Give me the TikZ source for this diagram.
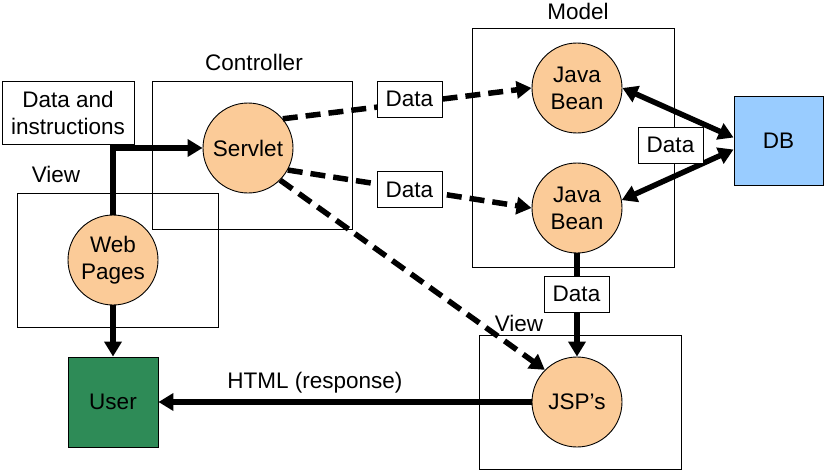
\documentclass[tikz,border=0pt]{standalone}
\usepackage{fontspec}
\setmainfont{Liberation Sans}
\usetikzlibrary{arrows.meta,calc}
\definecolor{peach}{RGB}{251,203,152}
\definecolor{usergreen}{RGB}{46,139,87}
\definecolor{dbblue}{RGB}{153,204,255}
\tikzset{
  frame/.style={draw=black, line width=0.9pt},
  proc/.style={circle, draw=black, line width=0.9pt, fill=peach, minimum size=90pt, inner sep=0pt, align=center},
  databox/.style={draw=black, line width=0.9pt, fill=white, minimum width=65pt, minimum height=36pt, inner sep=0pt},
  lbl/.style={inner sep=0pt},
  flow/.style={line width=5.5pt, -{Triangle[length=15pt,width=17pt]}},
  flowboth/.style={line width=5.5pt, {Triangle[length=15pt,width=17pt]}-{Triangle[length=15pt,width=17pt]}},
  dflow/.style={line width=5.5pt, dash pattern=on 15pt off 8pt, -{Triangle[length=15pt,width=17pt]}},
}
\begin{document}
\begin{tikzpicture}[x=1pt,y=-1pt, font=\fontsize{22.5}{27}\selectfont]
\useasboundingbox (0,0) rectangle (825,471);
% frames
\draw[frame] (17,193) rectangle (218,327);
\draw[frame] (152,81) rectangle (352,229);
\draw[frame] (472,28) rectangle (674,267);
\draw[frame] (479,335) rectangle (681,469);
% labels
\node[lbl] (lblCtrl) at (254,62) {Controller};
\node[lbl] (lblModel) at (578,11) {Model};
\node[lbl] (lblViewL) at (56,174) {View};
\node[lbl] (lblViewR) at (519,323) {View};
\node[lbl] (lblHtml) at (315,383) {HTML (response)};
% main nodes
\node[draw=black, line width=0.9pt, fill=white, minimum width=132pt, minimum height=63pt, inner sep=0pt, align=center] (instr) at (68,112.5) {Data and\\instructions};
\node[proc] (servlet) at (248,148) {Servlet};
\node[proc] (web) at (113,260) {Web\\Pages};
\node[proc] (bean1) at (577,88) {Java\\Bean};
\node[proc] (bean2) at (577,208) {Java\\Bean};
\node[proc] (jsp) at (577,402) {JSP’s};
\node[draw=black, line width=0.9pt, fill=usergreen, minimum width=90pt, minimum height=90pt, inner sep=0pt] (user) at (113,402) {User};
\node[draw=black, line width=0.9pt, fill=dbblue, minimum width=89pt, minimum height=89pt, inner sep=0pt] (db) at (778.5,140.5) {DB};
% connectors
\draw[flow] (web.north) |- (servlet.west);
\draw[flow] (web.south) -- (user.north);
\draw[flow] (jsp.west) -- (user.east);
\draw[flow] (bean2.south) -- (jsp.north);
\draw[dflow] (servlet.40) -- (bean1.west);
\draw[dflow] (servlet.-29) -- (bean2.west);
\draw[dflow] (servlet.-45) -- (jsp.135);
\draw[flowboth] (bean1.east) -- ([yshift=3pt]db.west);
\draw[flowboth] (bean2.10) -- ([yshift=-9pt]db.west);
% data boxes
\node[databox] (d1) at (409.5,99) {Data};
\node[databox] (d2) at (409.5,189.5) {Data};
\node[databox] (d3) at (576.5,294) {Data};
\node[databox] (d4) at (670.5,145) {Data};
\end{tikzpicture}
\end{document}
